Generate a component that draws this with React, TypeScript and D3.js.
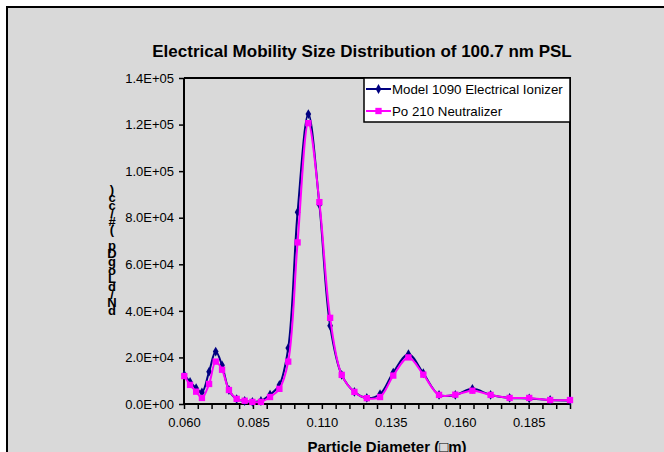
import * as d3 from "d3";
import React, { useEffect, useRef } from "react";

// particle diameter (um) for each SMPS channel
const diameters = [0.0601, 0.0622, 0.0644, 0.0665, 0.0691, 0.0715, 0.0738, 0.0763, 0.0791, 0.0820,
  0.0848, 0.0879, 0.0912, 0.0946, 0.0978, 0.1012, 0.1051, 0.1091, 0.1130, 0.1172,
  0.1218, 0.1263, 0.1311, 0.1359, 0.1414, 0.1468, 0.1525, 0.1584, 0.1646, 0.1712,
  0.1781, 0.1852, 0.1928, 0.2000];
// dN/dLogDp (#/cc)
const ionizer = [12500, 9500, 6800, 5000, 13900, 22500, 16600, 6000, 2100, 1300,
  900, 1300, 4000, 8200, 24000, 82400, 124500, 85700, 33600, 12500,
  5200, 2600, 4200, 13500, 21400, 13200, 3900, 3900, 6500, 3900,
  2600, 2400, 1700, 1500];
const po210 = [12000, 8200, 5300, 2600, 8600, 18200, 14700, 6000, 2200, 1400,
  900, 900, 3000, 6500, 18200, 69400, 120600, 86700, 37000, 12500,
  5200, 2500, 3000, 12200, 20000, 12600, 3900, 4000, 5700, 3900,
  2600, 2600, 1700, 1700];
const seriesNames = ["Model 1090 Electrical Ionizer", "Po 210 Neutralizer"];
const xTicks = [0.060, 0.085, 0.110, 0.135, 0.160, 0.185];
const yTicks = [0, 20000, 40000, 60000, 80000, 100000, 120000, 140000];

const title = "Electrical Mobility Size Distribution of 100.7 nm PSL";
const xTitle = "Particle Diameter (\u25A1m)";
const yTitle = "dN/dLogDp (#/cc)";

// excel style 0.0E+00
function sci(v: number) {
  if (v === 0) return "0.0E+00";
  const e = Math.floor(Math.log10(v));
  const m = v / Math.pow(10, e);
  return m.toFixed(1) + "E+" + (e < 10 ? "0" + e : e);
}

export default function App() {
  const svgRef = useRef<SVGSVGElement>(null);
  const w = 664;
  const h = 452;

  useEffect(() => {
    const svg = d3.select(svgRef.current);
    svg.selectAll("*").remove();

    const left = 184, right = 570, top = 78, bottom = 404;
    const x = d3.scaleLinear().domain([0.06, 0.2]).range([left, right]);
    const y = d3.scaleLinear().domain([0, 140000]).range([bottom, top]);

    // chart area
    svg.append("rect").attr("x", 0).attr("y", 0).attr("width", w).attr("height", h).attr("fill", "#fff");
    svg.append("rect").attr("x", 7).attr("y", 7).attr("width", w).attr("height", h)
      .attr("fill", "#d9d9d9").attr("stroke", "#000").attr("stroke-width", 2);

    svg.append("text")
      .attr("x", 362).attr("y", 57)
      .attr("text-anchor", "middle")
      .style("font", "bold 17px 'Liberation Sans', Arial, sans-serif")
      .text(title);

    // plot border (top, right)
    svg.append("path")
      .attr("d", `M${left},${top}H${right}V${bottom}`)
      .attr("fill", "none").attr("stroke", "#000").attr("stroke-width", 2);

    // axes
    const xAxis = d3.axisBottom(x)
      .tickValues(d3.range(0.06, 0.2001, 0.005))
      .tickSize(5)
      .tickFormat((d: any) => xTicks.some((t) => Math.abs(t - d) < 1e-6) ? d3.format(".3f")(d) : "");
    const gx = svg.append("g").attr("transform", `translate(0,${bottom})`).call(xAxis);
    gx.select(".domain").attr("stroke-width", 2).attr("d", `M${left},0H${right}`);
    gx.selectAll(".tick line").attr("stroke-width", 1.5);
    gx.selectAll(".tick text")
      .attr("dy", "0")
      .attr("y", 23)
      .attr("fill", "#000")
      .style("font", "13px 'Liberation Sans', Arial, sans-serif");

    const yAxis = d3.axisLeft(y).tickValues(yTicks).tickSize(5).tickFormat((d: any) => sci(d));
    const gy = svg.append("g").attr("transform", `translate(${left},0)`).call(yAxis);
    gy.select(".domain").attr("stroke-width", 2).attr("d", `M0,${top}V${bottom}`);
    gy.selectAll(".tick line").attr("stroke-width", 1.5);
    gy.selectAll(".tick text")
      .attr("x", -10)
      .attr("fill", "#000")
      .style("font", "13px 'Liberation Sans', Arial, sans-serif");

    // y title: characters stacked bottom to top, as in the original
    const yt = svg.append("g").style("font", "bold 13px 'Liberation Sans', Arial, sans-serif");
    yTitle.split("").forEach((ch, i) => {
      yt.append("text")
        .attr("x", 112).attr("y", 315 - i * 8.1)
        .attr("text-anchor", "middle")
        .text(ch);
    });

    svg.append("text")
      .attr("x", 387).attr("y", 452)
      .attr("text-anchor", "middle")
      .style("font", "bold 15px 'Liberation Sans', Arial, sans-serif")
      .text(xTitle);

    // series
    const series = [
      { name: seriesNames[0], values: ionizer, color: "#000080", symbol: d3.symbolDiamond, size: 28 },
      { name: seriesNames[1], values: po210, color: "#ff00ff", symbol: d3.symbolSquare, size: 40 },
    ];
    const line = d3.line<[number, number]>()
      .x((d) => x(d[0]))
      .y((d) => y(d[1]))
      .curve(d3.curveCatmullRom);

    series.forEach((s) => {
      const pts: [number, number][] = diameters.map((d, i) => [d, s.values[i]]);
      svg.append("path")
        .attr("d", line(pts))
        .attr("fill", "none")
        .attr("stroke", s.color)
        .attr("stroke-width", 2);
      svg.append("g").selectAll("path")
        .data(pts)
        .enter()
        .append("path")
        .attr("transform", (d) => `translate(${x(d[0])},${y(d[1])})`)
        .attr("d", d3.symbol().type(s.symbol).size(s.size)())
        .attr("fill", s.color);
    });

    // legend
    const lg = svg.append("g");
    lg.append("rect")
      .attr("x", 364).attr("y", top).attr("width", right - 364).attr("height", 44)
      .attr("fill", "#fff").attr("stroke", "#000").attr("stroke-width", 1.5);
    series.forEach((s, i) => {
      const ly = 89 + i * 22;
      lg.append("line").attr("x1", 366).attr("x2", 391).attr("y1", ly).attr("y2", ly)
        .attr("stroke", s.color).attr("stroke-width", 2);
      lg.append("path")
        .attr("transform", `translate(378.5,${ly})`)
        .attr("d", d3.symbol().type(s.symbol).size(s.size)())
        .attr("fill", s.color);
      lg.append("text")
        .attr("x", 392).attr("y", ly + 4.5)
        .style("font", "13.3px 'Liberation Sans', Arial, sans-serif")
        .text(s.name);
    });
  }, []);

  return (
    <svg
      ref={svgRef}
      width={w}
      height={h}
      style={{ position: "absolute", left: 0, top: 0, display: "block" }}
    />
  );
}
